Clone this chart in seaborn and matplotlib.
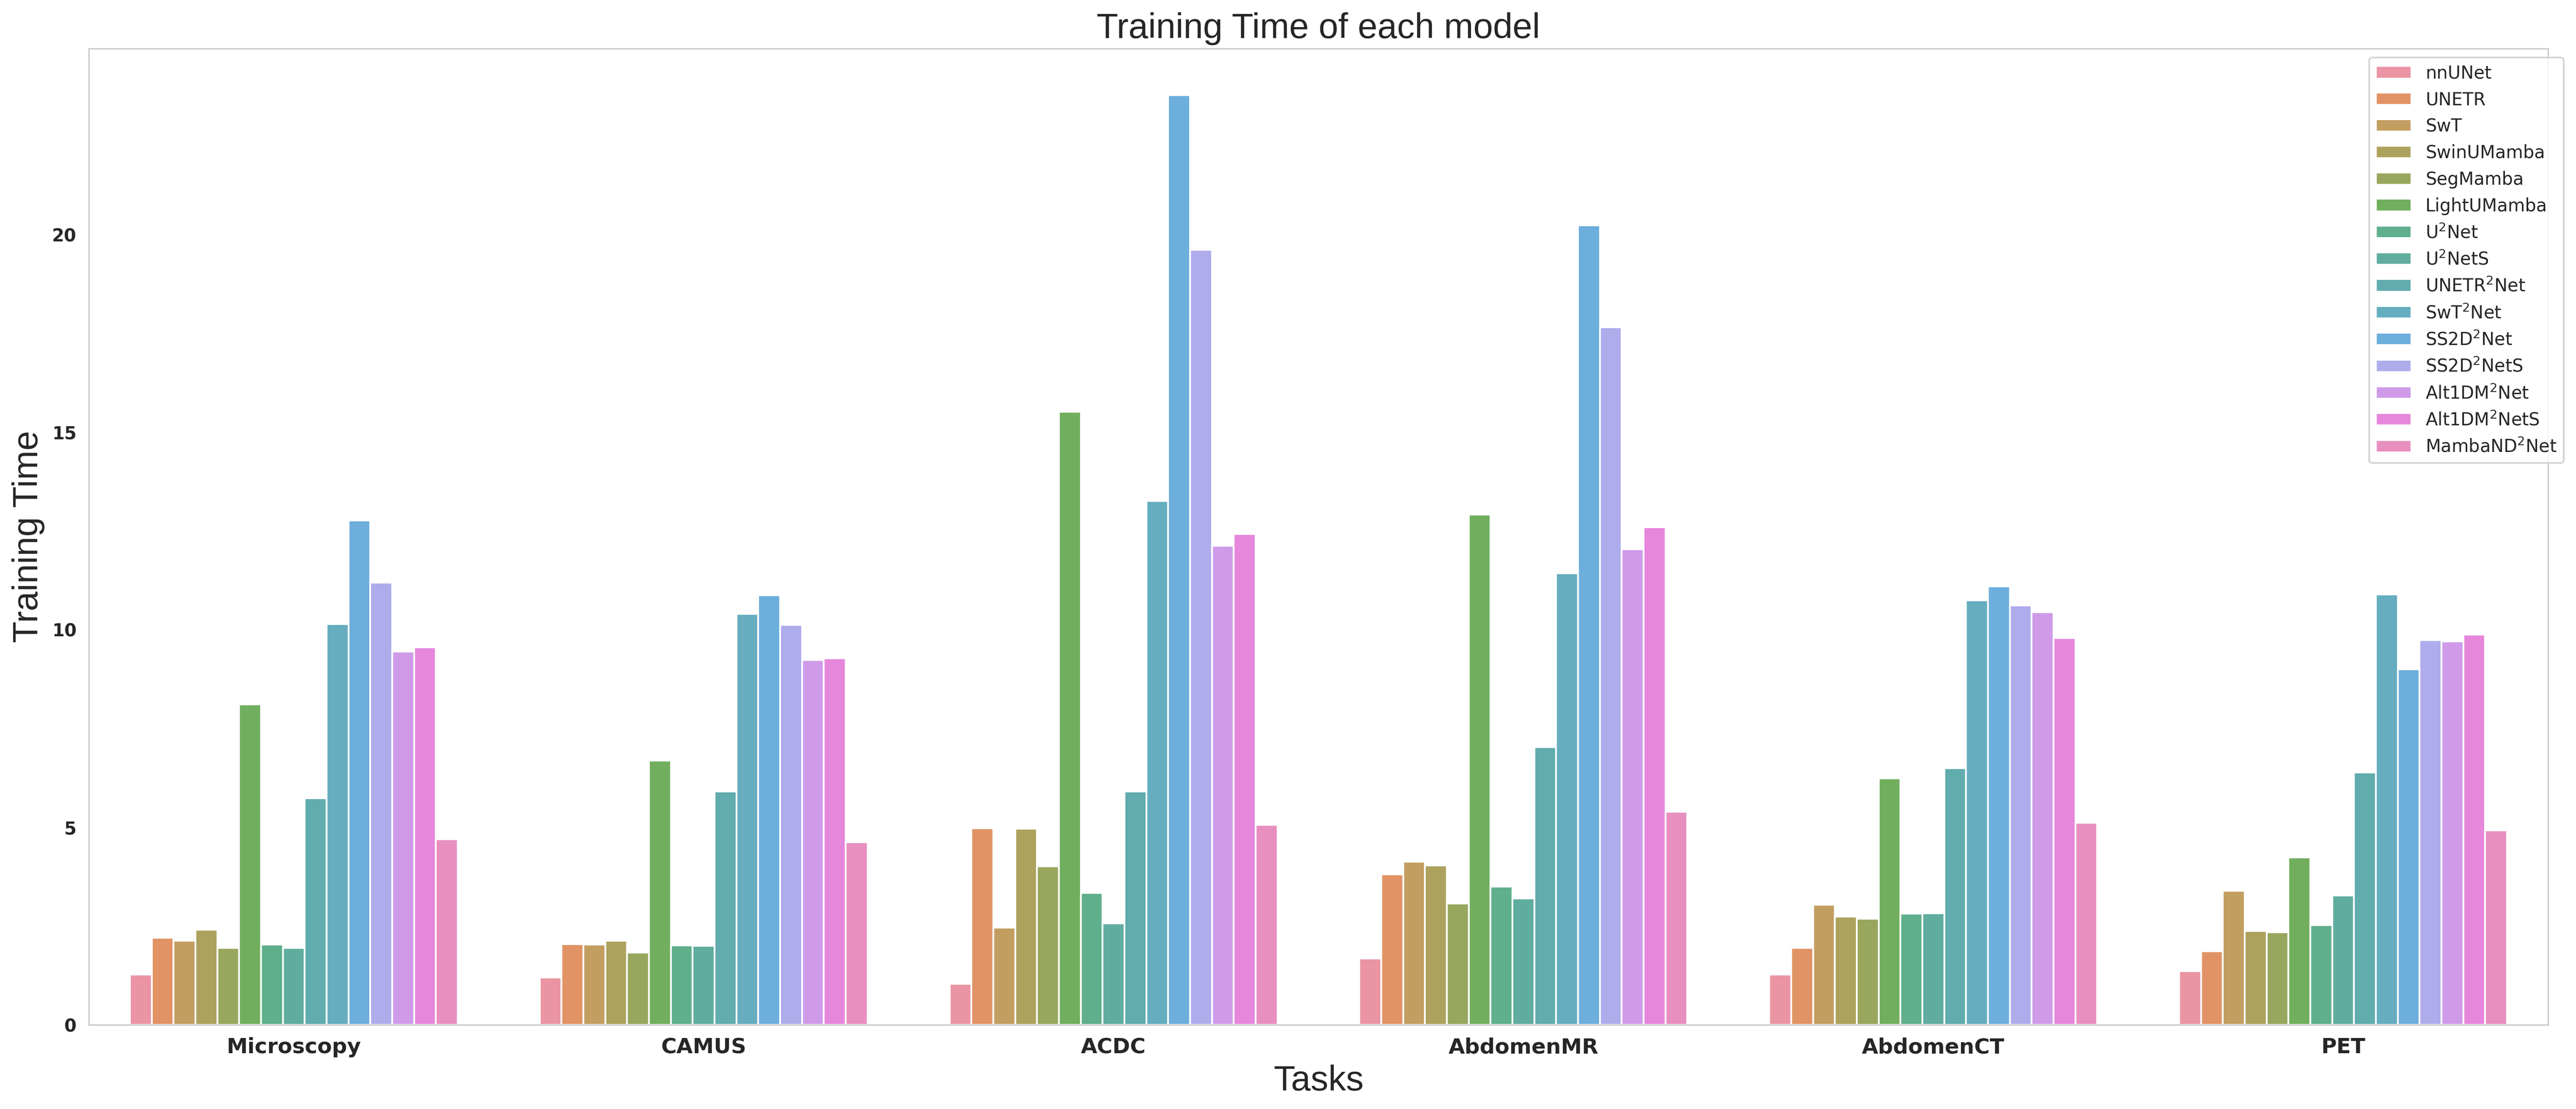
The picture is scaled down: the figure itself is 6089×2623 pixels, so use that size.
import pandas as pd
import matplotlib
matplotlib.use("Agg")
import matplotlib.pyplot as plt
import seaborn as sns

# === Data ===
tasks = ["Microscopy", "CAMUS", "ACDC", "AbdomenMR", "AbdomenCT", "PET"]
models = [
    "nnUNet", "UNETR", "SwT", "SwinUMamba", "SegMamba", "LightUMamba",
    "U$^2$Net", "U$^2$NetS", "UNETR$^2$Net", "SwT$^2$Net", "SS2D$^2$Net",
    "SS2D$^2$NetS", "Alt1DM$^2$Net", "Alt1DM$^2$NetS", "MambaND$^2$Net",
]

# training time per model, one value per task (same order as tasks)
nnunet = [1.27, 1.20, 1.04, 1.68, 1.27, 1.36]
unetr = [2.20, 2.04, 4.98, 3.81, 1.95, 1.86]
swt = [2.13, 2.03, 2.46, 4.13, 3.04, 3.39]
swinumamba = [2.41, 2.13, 4.96, 4.03, 2.74, 2.38]
segmamba = [1.95, 1.83, 4.01, 3.07, 2.69, 2.34]
lightumamba = [8.11, 6.69, 15.52, 12.92, 6.24, 4.24]
u2net = [2.03, 2.01, 3.34, 3.50, 2.81, 2.52]
u2nets = [1.95, 2.00, 2.57, 3.20, 2.83, 3.27]
unetr2net = [5.74, 5.91, 5.91, 7.03, 6.49, 6.39]
swt2net = [10.14, 10.40, 13.26, 11.43, 10.74, 10.89]
ss2d2net = [12.77, 10.87, 23.53, 20.23, 11.10, 9.00]
ss2d2nets = [11.19, 10.12, 19.61, 17.65, 10.61, 9.74]
alt1dm2net = [9.45, 9.23, 12.12, 12.04, 10.44, 9.71]
alt1dm2nets = [9.56, 9.28, 12.42, 12.59, 9.79, 9.88]
mamband2net = [4.70, 4.62, 5.06, 5.39, 5.11, 4.92]

series = [nnunet, unetr, swt, swinumamba, segmamba, lightumamba, u2net, u2nets,
          unetr2net, swt2net, ss2d2net, ss2d2nets, alt1dm2net, alt1dm2nets, mamband2net]

rows = []
for model, values in zip(models, series):
    for task, v in zip(tasks, values):
        rows.append({"Tasks": task, "Model": model, "Training Time": v})
df = pd.DataFrame(rows)

# husl colours, desaturated and lightened towards white (opaque so grid stays behind)
palette = []
for c in sns.husl_palette(len(models)):
    r, g, b = sns.desaturate(c, 0.75)
    palette.append((0.85 * r + 0.15, 0.85 * g + 0.15, 0.85 * b + 0.15))

# === Plot ===
sns.set_style("whitegrid")
fig = plt.figure(figsize=(6089 / 300, 2623 / 300), dpi=300)
ax = fig.add_axes([210 / 6089, 1 - 2424 / 2623, (6023 - 210) / 6089, (2424 - 115) / 2623])

sns.barplot(data=df, x="Tasks", y="Training Time", hue="Model",
            hue_order=models, order=tasks, palette=palette, saturation=1, ax=ax)

ax.grid(axis="y", visible=False)
ax.set_axisbelow(True)

ax.set_title("Training Time of each model", fontsize=20, fontname="Liberation Sans")
ax.set_xlabel("Tasks", fontsize=20, fontname="Liberation Sans")
ax.set_ylabel("Training Time", fontsize=20, fontname="Liberation Sans")

for lbl in ax.get_xticklabels():
    lbl.set_fontweight("bold")
    lbl.set_fontsize(12)
for lbl in ax.get_yticklabels():
    lbl.set_fontweight("bold")
    lbl.set_fontsize(10)

ax.legend(loc="upper right", bbox_to_anchor=(1.01, 1), fontsize=10)

fig.savefig("out.png", dpi=300)
plt.close(fig)
